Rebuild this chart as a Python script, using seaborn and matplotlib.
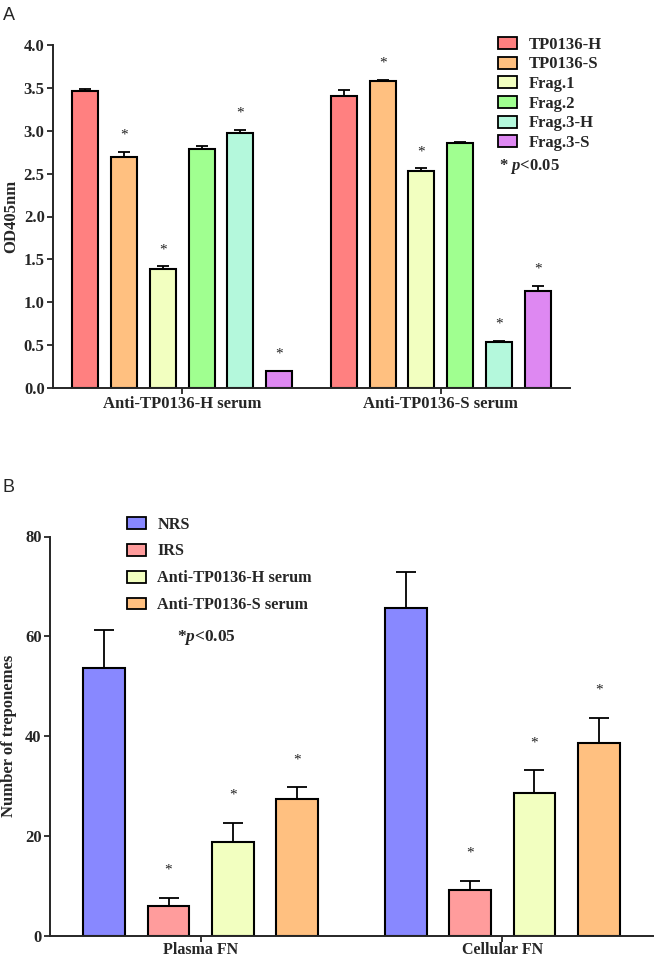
import matplotlib
matplotlib.use("Agg")
import matplotlib.pyplot as plt
import numpy as np
import pandas as pd
import seaborn as sns

# panel A: ELISA OD405nm
A_GROUPS = ["Anti-TP0136-H serum", "Anti-TP0136-S serum"]
A_SERIES = ["TP0136-H", "TP0136-S", "Frag.1", "Frag.2", "Frag.3-H", "Frag.3-S"]
A_COLORS = ["#FF8080", "#FFC080", "#F2FFC0", "#A0FF90", "#B4F8DC", "#DE88F2"]
A_MEAN_H = [3.46, 2.69, 1.39, 2.79, 2.97, 0.20]
A_ERR_H = [0.03, 0.06, 0.03, 0.03, 0.04, 0.0]
A_SIG_H = [False, True, True, False, True, True]
A_MEAN_S = [3.41, 3.58, 2.53, 2.86, 0.54, 1.13]
A_ERR_S = [0.06, 0.01, 0.03, 0.01, 0.01, 0.06]
A_SIG_S = [False, True, True, False, True, True]
A_YTICKS = [0.0, 0.5, 1.0, 1.5, 2.0, 2.5, 3.0, 3.5, 4.0]

# panel B: treponeme counts
B_GROUPS = ["Plasma FN", "Cellular FN"]
B_SERIES = ["NRS", "IRS", "Anti-TP0136-H serum", "Anti-TP0136-S serum"]
B_COLORS = ["#8888FF", "#FF9C9C", "#F2FFC0", "#FFC080"]
B_MEAN_P = [53.6, 5.9, 18.7, 27.3]
B_ERR_P = [7.6, 1.6, 3.9, 2.4]
B_SIG_P = [False, True, True, True]
B_MEAN_C = [65.7, 9.2, 28.6, 38.6]
B_ERR_C = [7.2, 1.7, 4.5, 5.0]
B_SIG_C = [False, True, True, True]
B_YTICKS = [0, 20, 40, 60, 80]

sns.set_style("ticks")
plt.rcParams["font.family"] = ["Liberation Serif", "DejaVu Serif"]
plt.rcParams["font.weight"] = "bold"
plt.rcParams["axes.labelweight"] = "bold"
plt.rcParams["mathtext.fontset"] = "custom"
plt.rcParams["mathtext.it"] = "Liberation Serif:italic:bold"
plt.rcParams["mathtext.rm"] = "Liberation Serif:bold"


def make_frame(groups, series, means, errs, sigs):
    rows = []
    for g, m_list, e_list, s_list in zip(groups, means, errs, sigs):
        for s, m, e, sig in zip(series, m_list, e_list, s_list):
            rows.append({"group": g, "series": s, "mean": m, "err": e, "sig": sig})
    return pd.DataFrame(rows)


def draw_panel(ax, df, groups, series, colors, width, gap, capsize, star_off, star_size):
    sns.barplot(
        data=df, x="group", y="mean", hue="series",
        order=groups, hue_order=series, palette=colors,
        width=width, gap=gap, errorbar=None,
        edgecolor="black", linewidth=1.5, saturation=1, ax=ax,
    )
    for i, s in enumerate(series):
        bars = sorted(ax.containers[i], key=lambda b: b.get_x())
        for j, g in enumerate(groups):
            row = df[(df["group"] == g) & (df["series"] == s)].iloc[0]
            bar = bars[j]
            xc = bar.get_x() + bar.get_width() / 2
            top = row["mean"] + row["err"]
            if row["err"] > 0:
                ax.errorbar([xc], [row["mean"]], yerr=[[0], [row["err"]]], fmt="none",
                            ecolor="black", elinewidth=1.3, capsize=capsize, capthick=1.3)
            if row["sig"]:
                ax.annotate("*", xy=(xc, top), xytext=(0, star_off), textcoords="offset points",
                            ha="center", va="center", fontsize=star_size,
                            fontweight="normal", color="#222222")
    ax.set_xlim(-0.5, 1.5)
    sns.despine(ax=ax)
    for side in ["left", "bottom"]:
        ax.spines[side].set_linewidth(1.4)
    ax.tick_params(axis="both", width=1.3, length=4, labelsize=12, pad=2)
    ax.set_xlabel("")
    for lab in ax.get_xticklabels() + ax.get_yticklabels():
        lab.set_fontweight("bold")


def style_legend(ax, anchor, size, spacing, hlen, hheight, pad):
    handles, labels = ax.get_legend_handles_labels()
    ax.get_legend().remove()
    leg = ax.legend(handles, labels, loc="upper left", bbox_to_anchor=anchor,
                    frameon=False, fontsize=size, handlelength=hlen, handleheight=hheight,
                    labelspacing=spacing, handletextpad=pad, borderaxespad=0, borderpad=0)
    for h in leg.legend_handles:
        h.set_edgecolor("black")
        h.set_linewidth(1.3)
    return leg


fig = plt.figure(figsize=(6.55, 9.59), dpi=100)

# ---- panel A
ax_a = fig.add_axes([53 / 655, 1 - 388 / 959, 517 / 655, 343 / 959])
df_a = make_frame(A_GROUPS, A_SERIES, [A_MEAN_H, A_MEAN_S], [A_ERR_H, A_ERR_S], [A_SIG_H, A_SIG_S])
draw_panel(ax_a, df_a, A_GROUPS, A_SERIES, A_COLORS, 0.9, 0.33, 4, 12, 11)
ax_a.set_ylim(0, 4)
ax_a.set_yticks(A_YTICKS)
ax_a.set_yticklabels([f"{v:.1f}" for v in A_YTICKS])
ax_a.set_ylabel("OD405nm", fontsize=12, labelpad=3)
style_legend(ax_a, (0.861, 1.024), 12, 0.22, 1.15, 0.72, 0.66)
ax_a.text(0.863, 0.647, "* $p$<0.05", transform=ax_a.transAxes, fontsize=12,
          ha="left", va="center")

# ---- panel B
ax_b = fig.add_axes([50 / 655, 1 - 935.5 / 959, 603 / 655, 399 / 959])
df_b = make_frame(B_GROUPS, B_SERIES, [B_MEAN_P, B_MEAN_C], [B_ERR_P, B_ERR_C], [B_SIG_P, B_SIG_C])
draw_panel(ax_b, df_b, B_GROUPS, B_SERIES, B_COLORS, 0.855, 0.35, 7.5, 20, 11)
ax_b.tick_params(axis="x", labelsize=11.5, pad=1)
ax_b.set_ylim(0, 80)
ax_b.set_yticks(B_YTICKS)
ax_b.set_ylabel("Number of treponemes", fontsize=12, labelpad=6)
style_legend(ax_b, (0.128, 1.05), 11.7, 0.67, 1.17, 0.74, 0.68)
ax_b.text(0.21, 0.747, "*$p$<0.05", transform=ax_b.transAxes, fontsize=12.5,
          ha="left", va="center")

fig.text(3 / 655, 1 - 16 / 959, "A", fontsize=13, family="Liberation Sans",
         fontweight="normal", va="center", ha="left")
fig.text(3 / 655, 1 - 487 / 959, "B", fontsize=13, family="Liberation Sans",
         fontweight="normal", va="center", ha="left")

fig.savefig("out.png", dpi=100)
